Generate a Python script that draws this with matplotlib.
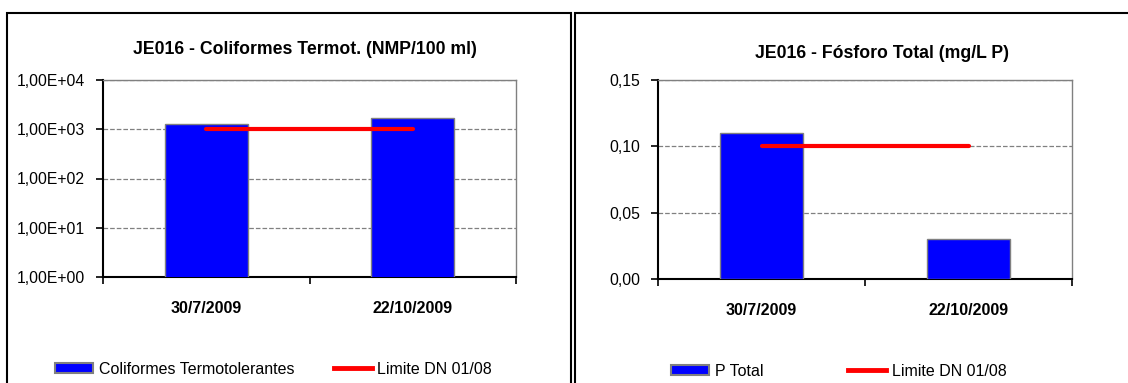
import numpy as np
import matplotlib
matplotlib.use('Agg')
import matplotlib.pyplot as plt
from matplotlib.patches import Rectangle, Patch
from matplotlib.lines import Line2D

plt.rcParams['font.family'] = ['Liberation Sans', 'DejaVu Sans']

datas = ['30/7/2009', '22/10/2009']

colif = [1300, 1700]
colif_lim = 1000
colif_ticks = [1, 10, 100, 1000, 10000]
colif_ticklabels = ['1,00E+00', '1,00E+01', '1,00E+02', '1,00E+03', '1,00E+04']

fosforo = [0.11, 0.03]
fosforo_lim = 0.10
fosforo_ticks = [0.0, 0.05, 0.10, 0.15]
fosforo_ticklabels = ['0,00', '0,05', '0,10', '0,15']

W, H = 1128, 383
fig = plt.figure(figsize=(W / 100, H / 100), dpi=100)

# panel frames
for x0, x1 in [(7, 571), (575, 1140)]:
    fig.patches.append(Rectangle((x0 / W, -0.1), (x1 - x0) / W, (H - 13) / H + 0.1,
                                 transform=fig.transFigure, fill=False,
                                 edgecolor='black', linewidth=1.5))


def draw(rect, vals, lim, ticks, ticklabels, title, title_xy, serie, log, leg):
    ax = fig.add_axes([rect[0] / W, (H - rect[3]) / H, (rect[2] - rect[0]) / W, (rect[3] - rect[1]) / H])
    x = np.arange(len(vals))
    ax.bar(x, vals, width=0.4, color='#0000FF', edgecolor='#808080', linewidth=1, zorder=3)
    ax.plot([x[0], x[-1]], [lim, lim], color='#FF0000', linewidth=3, solid_capstyle='round', zorder=4)
    if log:
        ax.set_yscale('log')
    ax.set_ylim(ticks[0], ticks[-1])
    ax.set_yticks(ticks, ticklabels)
    ax.yaxis.set_minor_locator(matplotlib.ticker.NullLocator())
    ax.set_xlim(-0.5, len(vals) - 0.5)
    ax.set_xticks(np.arange(len(vals) + 1) - 0.5, [''] * (len(vals) + 1))
    ax.set_xticks(x, datas, minor=True, fontweight='bold', fontsize=11.5)
    ax.tick_params(axis='x', which='minor', length=0, pad=17)
    ax.tick_params(axis='x', which='major', length=5, width=1.2, direction='out')
    ax.tick_params(axis='y', length=5, width=1.2, pad=8, labelsize=11.3)
    ax.grid(axis='y', color='#808080', linestyle='--', linewidth=0.9, zorder=0)
    for s in ['top', 'right']:
        ax.spines[s].set_color('#808080')
        ax.spines[s].set_linewidth(1)
    for s in ['left', 'bottom']:
        ax.spines[s].set_linewidth(1.5)
    fig.text(title_xy[0] / W, 1 - title_xy[1] / H, title, ha='center', va='center',
             fontsize=12.7, fontweight='bold')
    handles = [Patch(facecolor='#0000FF', edgecolor='#808080', linewidth=1.5),
               Line2D([], [], color='#FF0000', linewidth=3.5)]
    fig.legend(handles, [serie, 'Limite DN 01/08'], loc='center left',
               bbox_to_anchor=(leg[0] / W, 1 - leg[1] / H), ncol=2, frameon=False,
               fontsize=11.5, handlelength=2.4, handleheight=0.55, handletextpad=0.35,
               columnspacing=leg[2], borderpad=0, borderaxespad=0)
    return ax


draw((103, 80, 516, 277), colif, colif_lim, colif_ticks, colif_ticklabels,
     'JE016 - Coliformes Termot. (NMP/100 ml)', (305, 49),
     'Coliformes Termotolerantes', True, (55, 369, 2.45))
draw((658, 80, 1072, 279), fosforo, fosforo_lim, fosforo_ticks, fosforo_ticklabels,
     'JE016 - Fósforo Total (mg/L P)', (882, 53),
     'P Total', False, (671, 371, 5.3))

fig.savefig('out.png', dpi=100)
